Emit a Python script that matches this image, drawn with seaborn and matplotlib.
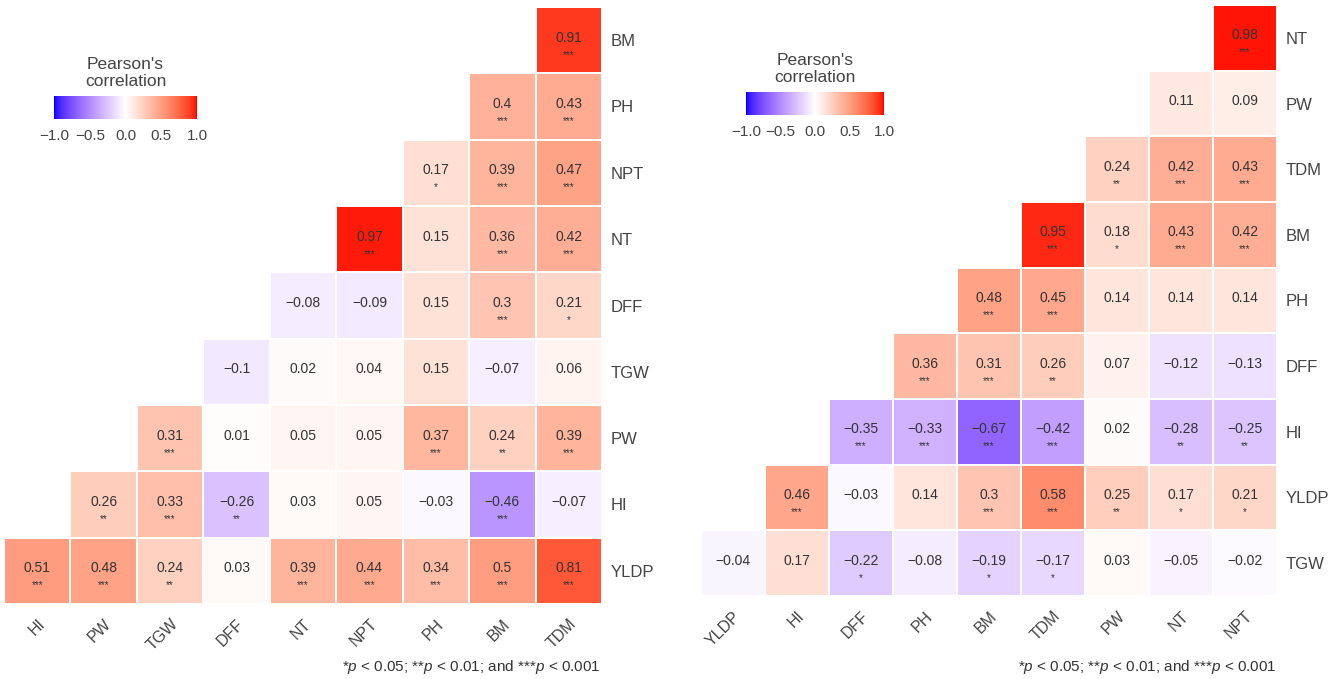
"""Two triangular Pearson correlation heatmaps side by side."""

import numpy as np
import pandas as pd
import matplotlib
matplotlib.use("Agg")
import matplotlib.pyplot as plt
from matplotlib.colors import ListedColormap
from matplotlib.transforms import ScaledTranslation
import seaborn as sns

sns.set_style("white")
plt.rcParams["font.family"] = ["Liberation Sans", "DejaVu Sans"]
plt.rcParams["mathtext.fontset"] = "custom"
plt.rcParams["mathtext.it"] = "Liberation Sans:italic"
plt.rcParams["mathtext.rm"] = "Liberation Sans"

# ---- data -------------------------------------------------------------
left_cols = ["HI", "PW", "TGW", "DFF", "NT", "NPT", "PH", "BM", "TDM"]
left_rows = ["BM", "PH", "NPT", "NT", "DFF", "TGW", "PW", "HI", "YLDP"]
left_r = [
    [None, None, None, None, None, None, None, None, 0.91],
    [None, None, None, None, None, None, None, 0.40, 0.43],
    [None, None, None, None, None, None, 0.17, 0.39, 0.47],
    [None, None, None, None, None, 0.97, 0.15, 0.36, 0.42],
    [None, None, None, None, -0.08, -0.09, 0.15, 0.30, 0.21],
    [None, None, None, -0.10, 0.02, 0.04, 0.15, -0.07, 0.06],
    [None, None, 0.31, 0.01, 0.05, 0.05, 0.37, 0.24, 0.39],
    [None, 0.26, 0.33, -0.26, 0.03, 0.05, -0.03, -0.46, -0.07],
    [0.51, 0.48, 0.24, 0.03, 0.39, 0.44, 0.34, 0.50, 0.81],
]
left_sig = [
    ["", "", "", "", "", "", "", "", "***"],
    ["", "", "", "", "", "", "", "***", "***"],
    ["", "", "", "", "", "", "*", "***", "***"],
    ["", "", "", "", "", "***", "", "***", "***"],
    ["", "", "", "", "", "", "", "***", "*"],
    ["", "", "", "", "", "", "", "", ""],
    ["", "", "***", "", "", "", "***", "**", "***"],
    ["", "**", "***", "**", "", "", "", "***", ""],
    ["***", "***", "**", "", "***", "***", "***", "***", "***"],
]

right_cols = ["YLDP", "HI", "DFF", "PH", "BM", "TDM", "PW", "NT", "NPT"]
right_rows = ["NT", "PW", "TDM", "BM", "PH", "DFF", "HI", "YLDP", "TGW"]
right_r = [
    [None, None, None, None, None, None, None, None, 0.98],
    [None, None, None, None, None, None, None, 0.11, 0.09],
    [None, None, None, None, None, None, 0.24, 0.42, 0.43],
    [None, None, None, None, None, 0.95, 0.18, 0.43, 0.42],
    [None, None, None, None, 0.48, 0.45, 0.14, 0.14, 0.14],
    [None, None, None, 0.36, 0.31, 0.26, 0.07, -0.12, -0.13],
    [None, None, -0.35, -0.33, -0.67, -0.42, 0.02, -0.28, -0.25],
    [None, 0.46, -0.03, 0.14, 0.30, 0.58, 0.25, 0.17, 0.21],
    [-0.04, 0.17, -0.22, -0.08, -0.19, -0.17, 0.03, -0.05, -0.02],
]
right_sig = [
    ["", "", "", "", "", "", "", "", "***"],
    ["", "", "", "", "", "", "", "", ""],
    ["", "", "", "", "", "", "**", "***", "***"],
    ["", "", "", "", "", "***", "*", "***", "***"],
    ["", "", "", "", "***", "***", "", "", ""],
    ["", "", "", "***", "***", "**", "", "", ""],
    ["", "", "***", "***", "***", "***", "", "**", "**"],
    ["", "***", "", "", "***", "***", "**", "*", "*"],
    ["", "", "*", "", "*", "*", "", "", ""],
]

cbar_ticks = [-1.0, -0.5, 0.0, 0.5, 1.0]
cbar_labels = ["\u22121.0", "\u22120.5", "0.0", "0.5", "1.0"]
cbar_title = "Pearson's\ncorrelation"
footnote = r"*$p$ < 0.05; **$p$ < 0.01; and ***$p$ < 0.001"


# ---- blue-white-red gradient interpolated in Lab (like ggplot) ------------
def srgb_to_lab(rgb):
    rgb = np.asarray(rgb, dtype=float)
    lin = np.where(rgb <= 0.04045, rgb / 12.92, ((rgb + 0.055) / 1.055) ** 2.4)
    m = np.array([[0.4124, 0.3576, 0.1805],
                  [0.2126, 0.7152, 0.0722],
                  [0.0193, 0.1192, 0.9505]])
    xyz = lin @ m.T / np.array([0.95047, 1.0, 1.08883])
    f = np.where(xyz > 0.008856, np.cbrt(xyz), 7.787 * xyz + 16 / 116)
    return np.stack([116 * f[..., 1] - 16,
                     500 * (f[..., 0] - f[..., 1]),
                     200 * (f[..., 1] - f[..., 2])], axis=-1)


def lab_to_srgb(lab):
    fy = (lab[..., 0] + 16) / 116
    fx = fy + lab[..., 1] / 500
    fz = fy - lab[..., 2] / 200
    f = np.stack([fx, fy, fz], axis=-1)
    xyz = np.where(f > 0.2069, f ** 3, (f - 16 / 116) / 7.787)
    xyz = xyz * np.array([0.95047, 1.0, 1.08883])
    minv = np.array([[3.2406, -1.5372, -0.4986],
                     [-0.9689, 1.8758, 0.0415],
                     [0.0557, -0.2040, 1.0570]])
    lin = np.clip(xyz @ minv.T, 0, 1)
    rgb = np.where(lin <= 0.0031308, 12.92 * lin, 1.055 * lin ** (1 / 2.4) - 0.055)
    return np.clip(rgb, 0, 1)


stops = srgb_to_lab([[0, 0, 1], [1, 1, 1], [1, 0, 0]])
t = np.linspace(0, 1, 256)[:, None]
lab = np.where(t < 0.5,
               stops[0] + (stops[1] - stops[0]) * (t / 0.5),
               stops[1] + (stops[2] - stops[1]) * ((t - 0.5) / 0.5))
cmap = ListedColormap(lab_to_srgb(lab))


def fmt(v):
    s = f"{v:.2f}".rstrip("0")
    return s.replace("-", "\u2212")


def draw_panel(fig, ax, cax, rows, cols, r, sig):
    df = pd.DataFrame(r, index=rows, columns=cols, dtype=float)
    sns.heatmap(df, cmap=cmap, vmin=-1, vmax=1, cbar=False,
                linewidths=1.2, linecolor="white", ax=ax)
    for i in range(len(rows)):
        for j in range(len(cols)):
            v = r[i][j]
            if v is None:
                continue
            ax.text(j + 0.5, i + 0.46, fmt(v), ha="center", va="center",
                    fontsize=10, color="#333333")
            if sig[i][j]:
                ax.text(j + 0.5, i + 0.72, sig[i][j], ha="center", va="center",
                        fontsize=7, color="#333333")
    ax.yaxis.tick_right()
    ax.set_yticklabels(rows, rotation=0, fontsize=12, color="#444444")
    ax.set_xticklabels(cols, rotation=45, ha="right", rotation_mode="anchor",
                       fontsize=11.5, color="#444444")
    shift = ScaledTranslation(6 / 72, 0, fig.dpi_scale_trans)
    for lbl in ax.get_xticklabels():
        lbl.set_transform(lbl.get_transform() + shift)
    ax.tick_params(axis="both", length=0)
    ax.tick_params(axis="x", pad=9)
    ax.tick_params(axis="y", pad=6)
    ax.set_xlabel("")
    ax.set_ylabel("")

    cb = plt.colorbar(ax.collections[0], cax=cax, orientation="horizontal",
                      ticks=cbar_ticks)
    cb.set_ticklabels(cbar_labels)
    cb.outline.set_visible(False)
    cax.tick_params(axis="x", length=3, direction="in", color="white",
                    labelsize=11, labelcolor="#444444", pad=7)
    cax.set_title(cbar_title, fontsize=12.5, color="#444444", pad=7,
                  linespacing=1.2)


W, H = 1338, 679
fig = plt.figure(figsize=(W / 100, H / 100), dpi=100)

ax_l = fig.add_axes([4 / W, 1 - 604 / H, 598 / W, 597 / H])
cax_l = fig.add_axes([54 / W, 1 - 119 / H, 143 / W, 23 / H])
draw_panel(fig, ax_l, cax_l, left_rows, left_cols, left_r, left_sig)

ax_r = fig.add_axes([701 / W, 1 - 596 / H, 576 / W, 591 / H])
cax_r = fig.add_axes([746 / W, 1 - 115 / H, 138 / W, 23 / H])
draw_panel(fig, ax_r, cax_r, right_rows, right_cols, right_r, right_sig)

fig.text(601 / W, 1 - 667 / H, footnote, ha="right", va="center",
         fontsize=11, color="#333333")
fig.text(1277 / W, 1 - 667 / H, footnote, ha="right", va="center",
         fontsize=11, color="#333333")

fig.savefig("out.png", dpi=100, facecolor="white")
